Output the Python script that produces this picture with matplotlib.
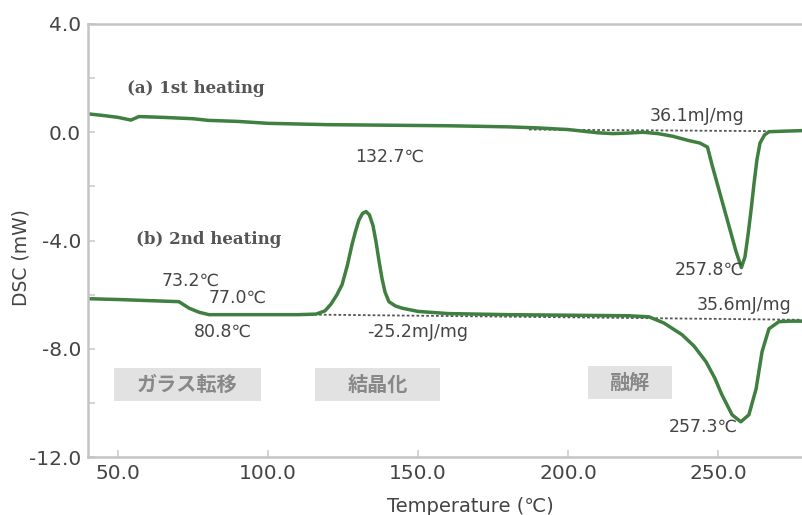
# DSC curves, 1st / 2nd heating
import matplotlib.pyplot as plt
from matplotlib.patches import Rectangle
from matplotlib.ticker import MultipleLocator, FormatStrFormatter

plt.rcParams['font.family'] = ['DejaVu Sans', 'Noto Sans CJK JP']

# (a) 1st heating
temp_a = [40, 45, 50, 54.3, 57, 65, 75, 80, 90, 100, 120, 140, 160, 180, 190,
          200, 205, 210, 215, 220, 225, 230, 235, 240, 244, 246.5, 248, 250,
          252, 254, 256, 257.8, 259, 260, 261, 262, 263, 264, 265.5, 267, 272,
          278]
dsc_a = [0.68, 0.62, 0.55, 0.45, 0.58, 0.55, 0.50, 0.44, 0.40, 0.33, 0.28,
         0.26, 0.24, 0.20, 0.16, 0.10, 0.04, -0.02, -0.05, -0.03, 0.0, -0.05,
         -0.15, -0.3, -0.4, -0.55, -1.2, -2.0, -2.8, -3.6, -4.4, -5.0, -4.6,
         -3.8, -2.9, -1.9, -1.0, -0.4, -0.1, 0.02, 0.04, 0.06]

# (b) 2nd heating
temp_b = [40, 50, 60, 70.3, 73.7, 77, 80.3, 90, 100, 110, 116, 119, 121,
          123, 124.7, 126.5, 128, 129.2, 130.3, 131.5, 132.7, 133.8, 135, 136,
          137, 138, 139, 140.3, 142.5, 144.7, 150, 160, 180, 200, 220, 227,
          232, 238, 242, 246, 249, 251.3, 254.7, 257.6, 260.3, 262.7, 264.7,
          267, 270.3, 274, 278]
dsc_b = [-6.15, -6.18, -6.22, -6.26, -6.5, -6.65, -6.74, -6.74, -6.74, -6.74,
         -6.72, -6.6, -6.35, -6.0, -5.63, -4.9, -4.15, -3.65, -3.25, -3.0,
         -2.93, -3.05, -3.45, -4.04, -4.75, -5.4, -5.9, -6.26, -6.42, -6.5,
         -6.62, -6.7, -6.74, -6.76, -6.78, -6.82, -7.05, -7.48, -7.9, -8.48,
         -9.1, -9.7, -10.44, -10.7, -10.44, -9.48, -8.1, -7.26, -7.0, -6.98,
         -6.98]

# integration baselines
base_a_t = [187, 267.7]
base_a_y = [0.10, 0.04]
base_b_t = [117, 278]
base_b_y = [-6.74, -6.93]

labels = [
    ('73.2℃', 74.3, -5.5),
    ('77.0℃', 90.0, -6.1),
    ('80.8℃', 85.0, -7.37),
    ('132.7℃', 140.7, -0.9),
    ('-25.2mJ/mg', 150.0, -7.37),
    ('36.1mJ/mg', 243.0, 0.6),
    ('257.8℃', 247.0, -5.07),
    ('35.6mJ/mg', 258.7, -6.37),
    ('257.3℃', 245.0, -10.9),
]

# region labels: text, x from, x to, y from, y to
regions = [
    ('ガラス転移', 48.7, 97.7, -9.92, -8.7),
    ('結晶化', 115.7, 157.3, -9.92, -8.7),
    ('融解', 206.7, 234.7, -9.85, -8.63),
]

fig = plt.figure(figsize=(8.02, 5.15), dpi=100)
ax = fig.add_axes([0.1097, 0.1126, 0.8903, 0.8408])

ax.plot(base_a_t, base_a_y, color='#555555', lw=1.3, ls=(0, (1.5, 1.2)))
ax.plot(base_b_t, base_b_y, color='#555555', lw=1.3, ls=(0, (1.5, 1.2)))
ax.plot(temp_a, dsc_a, color='#3f7f3f', lw=2.5, solid_joinstyle='round')
ax.plot(temp_b, dsc_b, color='#3f7f3f', lw=2.5, solid_joinstyle='round')

ax.set_xlim(40, 278)
ax.set_ylim(-12, 4)
ax.xaxis.set_major_locator(MultipleLocator(50))
ax.yaxis.set_major_locator(MultipleLocator(4))
ax.yaxis.set_minor_locator(MultipleLocator(2))
ax.xaxis.set_major_formatter(FormatStrFormatter('%.1f'))
ax.yaxis.set_major_formatter(FormatStrFormatter('%.1f'))
ax.tick_params(axis='both', which='both', direction='in', color='#cccccc',
               labelcolor='#444444', labelsize=14.5, pad=5)
ax.tick_params(axis='both', which='major', length=5, width=1.2)
ax.tick_params(axis='y', which='minor', length=5, width=1.2)

for side in ['left', 'bottom', 'top']:
    ax.spines[side].set_color('#c4c4c4')
    ax.spines[side].set_linewidth(1.8)
ax.spines['right'].set_visible(False)

ax.set_ylabel('DSC (mW)', fontsize=13.5, color='#444444')
ax.yaxis.set_label_coords(-0.08, 0.46)
ax.set_xlabel('Temperature (℃)', fontsize=14, color='#444444')
ax.xaxis.set_label_coords(0.536, -0.092)

ax.text(53, 1.6, '(a) 1st heating', family='DejaVu Serif', weight='bold',
        fontsize=12, color='#555555', va='center')
ax.text(56, -3.95, '(b) 2nd heating', family='DejaVu Serif', weight='bold',
        fontsize=12, color='#555555', va='center')

for txt, x, y in labels:
    ax.text(x, y, txt, fontsize=12.5, color='#444444', ha='center', va='center')

for txt, x0, x1, y0, y1 in regions:
    ax.add_patch(Rectangle((x0, y0), x1 - x0, y1 - y0, fc='#e2e2e2',
                           ec='none', zorder=1))
    ax.text((x0 + x1) / 2, (y0 + y1) / 2, txt, fontsize=14.5, color='#888888',
            ha='center', va='center', family='Noto Sans CJK JP',
            weight='bold', zorder=2)

fig.savefig('out.png', dpi=100)
